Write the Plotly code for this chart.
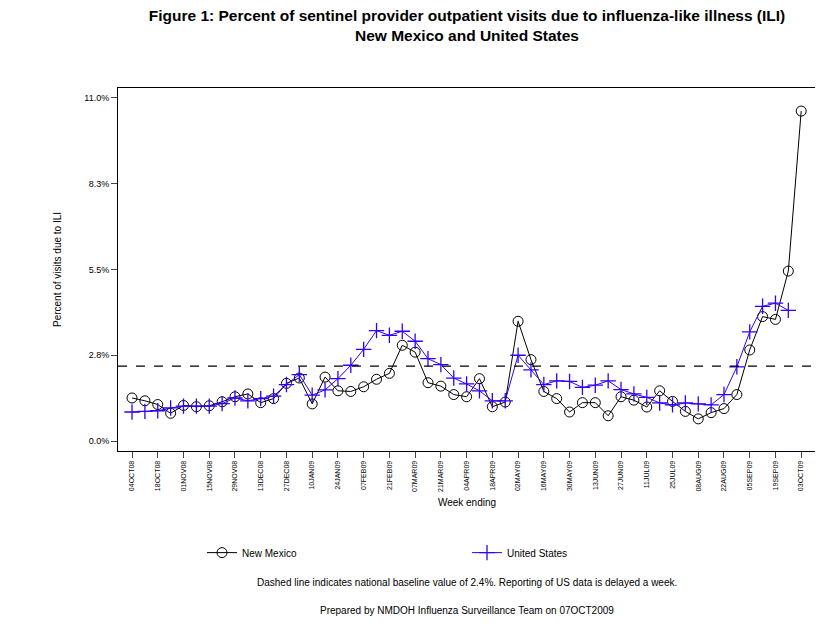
import plotly.graph_objects as go

weeks = ["04OCT08","11OCT08","18OCT08","25OCT08","01NOV08","08NOV08","15NOV08","22NOV08","29NOV08","06DEC08",
         "13DEC08","20DEC08","27DEC08","03JAN09","10JAN09","17JAN09","24JAN09","31JAN09","07FEB09","14FEB09",
         "21FEB09","28FEB09","07MAR09","14MAR09","21MAR09","28MAR09","04APR09","11APR09","18APR09","25APR09",
         "02MAY09","09MAY09","16MAY09","23MAY09","30MAY09","06JUN09","13JUN09","20JUN09","27JUN09","04JUL09",
         "11JUL09","18JUL09","25JUL09","01AUG09","08AUG09","15AUG09","22AUG09","29AUG09","05SEP09","12SEP09",
         "19SEP09","26SEP09","03OCT09"]
nm = [1.38,1.29,1.17,0.89,1.14,1.10,1.13,1.26,1.42,1.51,1.23,1.36,1.85,2.02,1.19,2.05,1.61,1.59,1.74,1.98,
      2.17,3.07,2.85,1.87,1.76,1.49,1.42,2.00,1.10,1.25,3.84,2.61,1.59,1.36,0.93,1.23,1.23,0.81,1.42,1.31,
      1.09,1.61,1.27,0.95,0.71,0.91,1.04,1.49,2.92,3.99,3.90,5.45,10.58]
us = [0.93,0.95,0.97,1.06,1.12,1.12,1.12,1.20,1.38,1.29,1.36,1.44,1.81,2.13,1.47,1.64,2.00,2.43,2.94,3.54,
      3.39,3.52,3.20,2.64,2.45,2.02,1.83,1.61,1.29,1.29,2.75,2.28,1.81,1.93,1.91,1.72,1.79,1.93,1.65,1.51,
      1.40,1.22,1.16,1.22,1.19,1.16,1.49,2.38,3.50,4.32,4.42,4.19]
baseline = 2.4
yticks = [0, 2.75, 5.5, 8.25, 11]
ytext = ["0.0%", "2.8%", "5.5%", "8.3%", "11.0%"]

idx = list(range(len(weeks)))
font = "Liberation Sans, Arial, sans-serif"
fig = go.Figure()
fig.add_trace(go.Scatter(x=idx, y=nm, mode="lines+markers", name="New Mexico",
                         line=dict(color="black", width=1),
                         marker=dict(symbol="circle-open", size=10, color="black", line=dict(width=1))))
fig.add_trace(go.Scatter(x=idx[:len(us)], y=us, mode="lines+markers", name="United States",
                         line=dict(color="#3300ff", width=1),
                         marker=dict(symbol="cross-thin-open", size=11, color="#3300ff", line=dict(width=1.3, color="#3300ff"))))
fig.add_shape(type="line", xref="paper", x0=0, x1=1, yref="y", y0=baseline, y1=baseline,
              line=dict(color="black", width=1.2, dash="dash"))
fig.update_layout(
    width=823, height=634, paper_bgcolor="white", plot_bgcolor="white",
    margin=dict(l=110, r=15, t=80, b=191, autoexpand=False),
    font=dict(family=font, color="black"),
    title=dict(text="<b>Figure 1: Percent of sentinel provider outpatient visits due to influenza-like illness (ILI)<br>New Mexico and United States</b>",
               x=0.5, xref="paper", y=0.98, yanchor="top", font=dict(size=15.5)),
    xaxis=dict(range=[-1.09, 53.15], tickvals=idx[::2], ticktext=weeks[::2], tickangle=-90,
               tickfont=dict(size=7), ticks="outside", ticklen=6, showgrid=False, zeroline=False,
               showline=True, linecolor="black", mirror=True,
               title=dict(text="Week ending", font=dict(size=10), standoff=8)),
    yaxis=dict(range=[-0.32, 11.32], tickvals=yticks, ticktext=ytext, tickfont=dict(size=9),
               ticks="outside", ticklen=6, showgrid=False, zeroline=False,
               showline=True, linecolor="black", mirror=True,
               title=dict(text="Percent of visits due to ILI", font=dict(size=10), standoff=20)),
    legend=dict(orientation="h", x=0.5, xanchor="center", y=-0.24, yanchor="top",
                font=dict(size=10), entrywidth=220),
    annotations=[
        dict(text="Dashed line indicates national baseline value of 2.4%. Reporting of US data is delayed a week.",
             xref="paper", yref="paper", x=0.5, y=-0.383, showarrow=False, font=dict(size=10)),
        dict(text="Prepared by NMDOH Influenza Surveillance Team on 07OCT2009",
             xref="paper", yref="paper", x=0.5, y=-0.46, showarrow=False, font=dict(size=10)),
    ],
)
fig.write_html("out.html")
